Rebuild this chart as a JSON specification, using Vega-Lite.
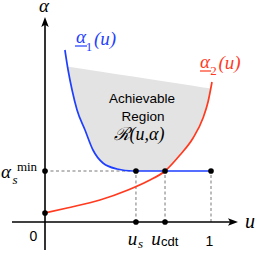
{
  "$schema": "https://vega.github.io/schema/vega-lite/v6.json",
  "width": 256,
  "height": 253,
  "autosize": "none",
  "padding": 0,
  "config": {"view": {"stroke": null}},
  "datasets": {
    "region": [
      {"u": 0.1355, "lo": 1.55, "hi": 1.55},
      {"u": 0.139, "lo": 1.52, "hi": 1.553},
      {"u": 0.163, "lo": 1.32, "hi": 1.547},
      {"u": 0.193, "lo": 1.12, "hi": 1.539},
      {"u": 0.241, "lo": 0.92, "hi": 1.527},
      {"u": 0.289, "lo": 0.72, "hi": 1.515},
      {"u": 0.349, "lo": 0.59, "hi": 1.5},
      {"u": 0.434, "lo": 0.53, "hi": 1.478},
      {"u": 0.53, "lo": 0.51, "hi": 1.454},
      {"u": 0.548, "lo": 0.51, "hi": 1.449},
      {"u": 0.723, "lo": 0.51, "hi": 1.404},
      {"u": 0.813, "lo": 0.67, "hi": 1.382},
      {"u": 0.892, "lo": 0.84, "hi": 1.362},
      {"u": 0.952, "lo": 1.04, "hi": 1.346},
      {"u": 0.982, "lo": 1.2, "hi": 1.339},
      {"u": 0.998, "lo": 1.335, "hi": 1.335}
    ],
    "alpha1": [
      {"u": 0.12, "a": 1.72},
      {"u": 0.139, "a": 1.52},
      {"u": 0.163, "a": 1.32},
      {"u": 0.193, "a": 1.12},
      {"u": 0.241, "a": 0.92},
      {"u": 0.289, "a": 0.72},
      {"u": 0.349, "a": 0.59},
      {"u": 0.434, "a": 0.53},
      {"u": 0.53, "a": 0.51},
      {"u": 0.548, "a": 0.51},
      {"u": 1.0, "a": 0.51}
    ],
    "alpha2": [
      {"u": 0.0, "a": 0.09},
      {"u": 0.133, "a": 0.14},
      {"u": 0.331, "a": 0.22},
      {"u": 0.5, "a": 0.32},
      {"u": 0.62, "a": 0.41},
      {"u": 0.723, "a": 0.51},
      {"u": 0.813, "a": 0.67},
      {"u": 0.892, "a": 0.84},
      {"u": 0.952, "a": 1.04},
      {"u": 0.982, "a": 1.2},
      {"u": 1.006, "a": 1.4}
    ],
    "dashes": [
      {"u": 0.0, "a": 0.51, "u2": 0.548, "a2": 0.51},
      {"u": 0.548, "a": 0.0, "u2": 0.548, "a2": 0.51},
      {"u": 0.723, "a": 0.0, "u2": 0.723, "a2": 0.51},
      {"u": 1.0, "a": 0.0, "u2": 1.0, "a2": 0.51}
    ],
    "axes": [
      {"u": 0.0, "a": -0.28, "u2": 0.0, "a2": 1.98},
      {"u": -0.1988, "a": 0.0, "u2": 1.13, "a2": 0.0}
    ],
    "dots": [
      {"u": 0.0, "a": 0.51},
      {"u": 0.0, "a": 0.09},
      {"u": 0.548, "a": 0.51},
      {"u": 0.723, "a": 0.51},
      {"u": 1.0, "a": 0.51},
      {"u": 0.548, "a": 0.0},
      {"u": 0.723, "a": 0.0}
    ]
  },
  "encoding": {
    "x": {"field": "u", "type": "quantitative", "scale": {"domain": [-0.27108, 1.27108], "nice": false, "zero": false}, "axis": null},
    "y": {"field": "a", "type": "quantitative", "scale": {"domain": [-0.31, 2.22], "nice": false, "zero": false}, "axis": null}
  },
  "layer": [
    {
      "data": {"name": "region"},
      "mark": {"type": "area", "color": "#e3e3e3", "opacity": 1},
      "encoding": {
        "y": {"field": "lo", "type": "quantitative"},
        "y2": {"field": "hi"}
      }
    },
    {
      "data": {"name": "dashes"},
      "mark": {"type": "rule", "color": "#555555", "strokeWidth": 0.8, "strokeDash": [3, 2.5]},
      "encoding": {"x2": {"field": "u2"}, "y2": {"field": "a2"}}
    },
    {
      "data": {"name": "axes"},
      "mark": {"type": "rule", "color": "#000000", "strokeWidth": 1.6},
      "encoding": {"x2": {"field": "u2"}, "y2": {"field": "a2"}}
    },
    {
      "data": {"values": [{"u": 0.0, "a": 1.9875}]},
      "mark": {"type": "point", "filled": true, "color": "#000000", "opacity": 1, "size": 156, "shape": "M0,-1L0.6,0.6L0,0.25L-0.6,0.6Z"}
    },
    {
      "data": {"values": [{"u": 1.125, "a": 0.0}]},
      "mark": {"type": "point", "filled": true, "color": "#000000", "opacity": 1, "size": 156, "shape": "M1,0L-0.6,0.6L-0.25,0L-0.6,-0.6Z"}
    },
    {
      "data": {"name": "alpha1"},
      "mark": {"type": "line", "color": "#1f3fff", "strokeWidth": 1.7, "interpolate": "monotone"}
    },
    {
      "data": {"name": "alpha2"},
      "mark": {"type": "line", "color": "#ff3a1f", "strokeWidth": 1.7, "interpolate": "monotone"}
    },
    {
      "data": {"name": "dots"},
      "mark": {"type": "circle", "color": "#000000", "opacity": 1, "size": 32}
    },
    {
      "data": {"values": [{"u": 0.1807, "a": 1.76, "u2": 0.253}]},
      "mark": {"type": "rule", "color": "#1f3fff", "strokeWidth": 1.2},
      "encoding": {"x2": {"field": "u2"}}
    },
    {
      "data": {"values": [{"u": 0.9337, "a": 1.51, "u2": 1.0}]},
      "mark": {"type": "rule", "color": "#ff3a1f", "strokeWidth": 1.2},
      "encoding": {"x2": {"field": "u2"}}
    },
    {
      "data": {"values": [
        {"u": 0.2169, "a": 1.79, "t": "α"},
        {"u": 0.3614, "a": 1.77, "t": "(u)"}
      ]},
      "mark": {"type": "text", "font": "Liberation Serif", "fontStyle": "italic", "fontSize": 19, "align": "center", "baseline": "alphabetic", "color": "#1f3fff"},
      "encoding": {"text": {"field": "t"}}
    },
    {
      "data": {"values": [{"u": 0.265, "a": 1.71, "t": "1"}]},
      "mark": {"type": "text", "font": "Liberation Serif", "fontSize": 13, "align": "center", "baseline": "alphabetic", "color": "#1f3fff"},
      "encoding": {"text": {"field": "t"}}
    },
    {
      "data": {"values": [
        {"u": 0.9639, "a": 1.54, "t": "α"},
        {"u": 1.1114, "a": 1.53, "t": "(u)"}
      ]},
      "mark": {"type": "text", "font": "Liberation Serif", "fontStyle": "italic", "fontSize": 19, "align": "center", "baseline": "alphabetic", "color": "#ff3a1f"},
      "encoding": {"text": {"field": "t"}}
    },
    {
      "data": {"values": [{"u": 1.015, "a": 1.47, "t": "2"}]},
      "mark": {"type": "text", "font": "Liberation Serif", "fontSize": 13, "align": "center", "baseline": "alphabetic", "color": "#ff3a1f"},
      "encoding": {"text": {"field": "t"}}
    },
    {
      "data": {"values": [
        {"u": -0.006, "a": 2.1, "t": "α"},
        {"u": -0.2349, "a": 0.44, "t": "α"},
        {"u": 0.527, "a": -0.23, "t": "u"},
        {"u": 0.6687, "a": -0.23, "t": "u"}
      ]},
      "mark": {"type": "text", "font": "Liberation Serif", "fontStyle": "italic", "fontSize": 19, "align": "center", "baseline": "alphabetic", "color": "#000000"},
      "encoding": {"text": {"field": "t"}}
    },
    {
      "data": {"values": [{"u": 1.235, "a": -0.06, "t": "u"}]},
      "mark": {"type": "text", "font": "Liberation Serif", "fontStyle": "italic", "fontSize": 20, "align": "center", "baseline": "alphabetic", "color": "#000000"},
      "encoding": {"text": {"field": "t"}}
    },
    {
      "data": {"values": [
        {"u": -0.1807, "a": 0.38, "t": "s"},
        {"u": 0.575, "a": -0.26, "t": "s"}
      ]},
      "mark": {"type": "text", "font": "Liberation Serif", "fontStyle": "italic", "fontSize": 13, "align": "center", "baseline": "alphabetic", "color": "#000000"},
      "encoding": {"text": {"field": "t"}}
    },
    {
      "data": {"values": [{"u": -0.1084, "a": 0.51, "t": "min"}]},
      "mark": {"type": "text", "font": "Liberation Serif", "fontSize": 13, "align": "center", "baseline": "alphabetic", "color": "#000000"},
      "encoding": {"text": {"field": "t"}}
    },
    {
      "data": {"values": [
        {"u": 0.5843, "a": 1.19, "t": "Achievable"},
        {"u": 0.5904, "a": 1.01, "t": "Region"}
      ]},
      "mark": {"type": "text", "font": "Liberation Sans", "fontSize": 13.5, "align": "center", "baseline": "alphabetic", "color": "#000000"},
      "encoding": {"text": {"field": "t"}}
    },
    {
      "data": {"values": [{"u": 0.5663, "a": 0.82, "t": "ℛ(u,α)"}]},
      "mark": {"type": "text", "font": "Liberation Serif", "fontStyle": "italic", "fontSize": 18, "align": "center", "baseline": "alphabetic", "color": "#000000"},
      "encoding": {"text": {"field": "t"}}
    },
    {
      "data": {"values": [
        {"u": -0.0693, "a": -0.19, "t": "0"},
        {"u": 0.991, "a": -0.24, "t": "1"}
      ]},
      "mark": {"type": "text", "font": "Liberation Sans", "fontSize": 14, "align": "center", "baseline": "alphabetic", "color": "#000000"},
      "encoding": {"text": {"field": "t"}}
    },
    {
      "data": {"values": [{"u": 0.6988, "a": -0.24, "t": "cdt"}]},
      "mark": {"type": "text", "font": "Liberation Sans", "fontSize": 13, "align": "left", "baseline": "alphabetic", "color": "#000000"},
      "encoding": {"text": {"field": "t"}}
    }
  ]
}
